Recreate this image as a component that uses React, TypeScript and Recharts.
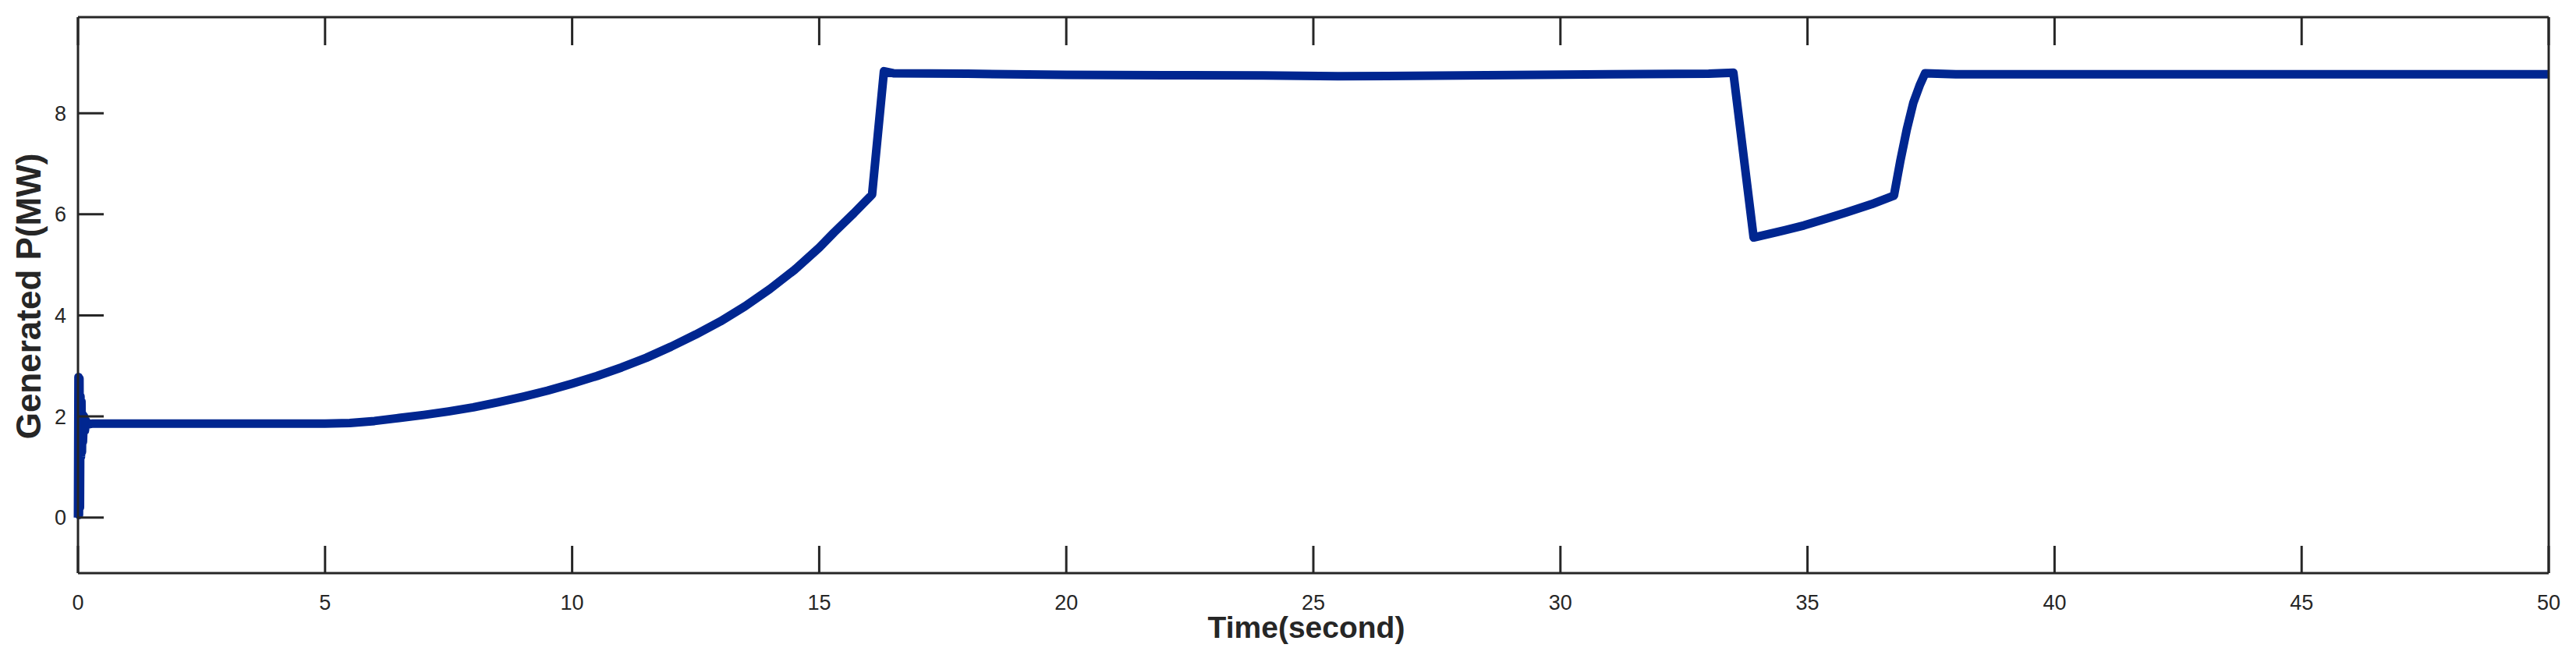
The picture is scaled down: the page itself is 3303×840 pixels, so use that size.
import { Label, Line, LineChart, XAxis, YAxis } from "recharts";

const timeSec = [
  0, 0.01, 0.02, 0.03, 0.04, 0.05, 0.06, 0.07, 0.08, 0.09, 0.1, 0.12, 0.14, 0.16, 0.2, 0.3,
  1, 2, 3, 4, 5, 5.5, 6, 6.5, 7, 7.5, 8, 8.5, 9, 9.5, 10, 10.5, 11, 11.5, 12, 12.5, 13, 13.5,
  14, 14.5, 15, 15.3, 15.7, 16.07, 16.31, 16.5, 18, 20, 22, 24, 25.5, 27, 29, 31, 33, 33.5,
  33.91, 34.4, 34.93, 35.4, 35.77, 36.3, 36.75, 36.88, 37.01, 37.14, 37.27, 37.38, 38, 40, 45, 50,
];
const powerMW = [
  0, 2.78, 0.05, 2.75, 0.2, 2.4, 1.2, 2.3, 1.3, 2.05, 1.5, 2.0, 1.72, 1.92, 1.84, 1.86,
  1.86, 1.86, 1.86, 1.86, 1.86, 1.87, 1.91, 1.97, 2.03, 2.1, 2.18, 2.28, 2.39, 2.51, 2.65, 2.8, 2.97, 3.16, 3.38, 3.62, 3.88, 4.18,
  4.52, 4.9, 5.34, 5.64, 6.02, 6.39, 8.83, 8.79, 8.78, 8.76, 8.75, 8.745, 8.73, 8.74, 8.755, 8.77, 8.78, 8.8,
  5.54, 5.65, 5.78, 5.92, 6.03, 6.2, 6.37, 7.06, 7.68, 8.2, 8.55, 8.79, 8.77, 8.77, 8.77, 8.77,
];

const xTicks = [0, 5, 10, 15, 20, 25, 30, 35, 40, 45, 50];
const yTicks = [0, 2, 4, 6, 8];

const data = timeSec.map((t, i) => ({ t, p: powerMW[i] }));

const W = 3303;
const H = 840;
const AXIS = "#262626";
const FONT = "'Liberation Sans', Arial, sans-serif";

export default function App() {
  const tickText = { fill: AXIS, fontSize: 27, fontFamily: FONT };
  return (
    <div style={{ position: "absolute", left: 0, top: 0, width: W, height: H, background: "#fff" }}>
      <LineChart width={W} height={H} data={data} margin={{ top: 0, right: 0, bottom: 0, left: 0 }}>
        <XAxis
          xAxisId="b"
          dataKey="t"
          type="number"
          domain={[0, 50]}
          ticks={xTicks}
          orientation="bottom"
          height={105}
          stroke={AXIS}
          strokeWidth={3}
          tickSize={-35}
          tickMargin={63}
          tick={tickText}
          interval={0}
        >
          <Label
            content={() => (
              <text x={1675} y={818} textAnchor="middle" fontFamily={FONT} fontWeight="bold" fontSize={39} fill={AXIS}>
                Time(second)
              </text>
            )}
          />
        </XAxis>
        <XAxis
          xAxisId="t"
          dataKey="t"
          type="number"
          domain={[0, 50]}
          ticks={xTicks}
          orientation="top"
          height={22}
          stroke={AXIS}
          strokeWidth={3}
          tickSize={-36}
          tickFormatter={() => ""}
          interval={0}
        />
        <YAxis
          yAxisId="l"
          type="number"
          domain={[-1.1, 9.9]}
          ticks={yTicks}
          orientation="left"
          width={100}
          stroke={AXIS}
          strokeWidth={3}
          tickSize={-33}
          tickMargin={48}
          tick={tickText}
          interval={0}
        >
          <Label
            content={() => (
              <text
                x={52}
                y={380}
                transform="rotate(-90, 52, 380)"
                textAnchor="middle"
                fontFamily={FONT}
                fontWeight="bold"
                fontSize={44}
                fill={AXIS}
              >
                Generated P(MW)
              </text>
            )}
          />
        </YAxis>
        <YAxis
          yAxisId="r"
          type="number"
          domain={[-1.1, 9.9]}
          ticks={yTicks}
          orientation="right"
          width={35}
          stroke={AXIS}
          strokeWidth={3}
          tickSize={-33}
          tickFormatter={() => ""}
          interval={0}
        />
        <Line
          xAxisId="b"
          yAxisId="l"
          type="linear"
          dataKey="p"
          stroke="#002690"
          strokeWidth={11}
          strokeLinejoin="round"
          dot={false}
          activeDot={false}
          isAnimationActive={false}
        />
      </LineChart>
    </div>
  );
}
